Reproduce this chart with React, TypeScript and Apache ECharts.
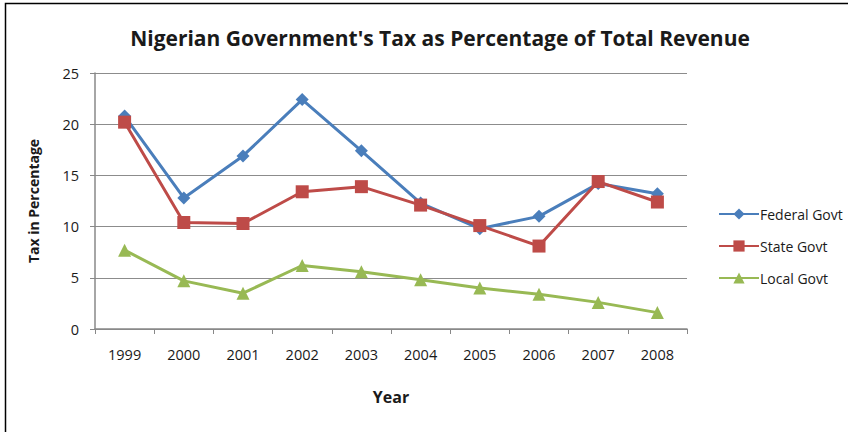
import React, { useEffect, useRef } from "react";
import * as echarts from "echarts";

const years = ["1999", "2000", "2001", "2002", "2003", "2004", "2005", "2006", "2007", "2008"];
const federalGovt = [20.8, 12.8, 16.9, 22.4, 17.4, 12.3, 9.8, 11.0, 14.2, 13.2];
const stateGovt = [20.2, 10.4, 10.3, 13.4, 13.9, 12.1, 10.1, 8.1, 14.4, 12.4];
const localGovt = [7.7, 4.7, 3.5, 6.2, 5.6, 4.8, 4.0, 3.4, 2.6, 1.6];

const FONT = "'Open Sans', sans-serif";

export default function App() {
  const ref = useRef<HTMLDivElement>(null);
  useEffect(() => {
    const chart = echarts.init(ref.current!, null, { renderer: "svg" });
    const mk = (name: string, data: number[], color: string, symbol: string, size: number) => ({
      name,
      type: "line",
      data,
      symbol,
      symbolSize: size,
      lineStyle: { color, width: 3 },
      itemStyle: { color },
      z: 3,
    });
    chart.setOption({
      animation: false,
      backgroundColor: "#fff",
      textStyle: { fontFamily: FONT },
      title: {
        text: "Nigerian Government's Tax as Percentage of Total Revenue",
        left: 435,
        top: 22,
        textAlign: "center",
        textStyle: { fontFamily: FONT, fontSize: 21, fontWeight: "bold", color: "#1a1a1a" },
      },
      graphic: [
        {
          type: "rect",
          shape: { x: 5.5, y: 3.5, width: 900, height: 500 },
          style: { fill: "none", stroke: "#000", lineWidth: 1.5 },
          silent: true,
        },
      ],
      legend: {
        orient: "vertical",
        left: 713,
        top: 202,
        itemWidth: 40,
        itemHeight: 14,
        itemGap: 18,
        textStyle: { fontFamily: FONT, fontSize: 14, color: "#1a1a1a", padding: [0, 0, 0, -4] },
        data: ["Federal Govt", "State Govt", "Local Govt"],
      },
      grid: { left: 95, top: 73, width: 592, height: 256, containLabel: false },
      xAxis: {
        type: "category",
        data: years,
        boundaryGap: true,
        name: "Year",
        nameLocation: "middle",
        nameGap: 60,
        nameTextStyle: { fontFamily: FONT, fontSize: 16, fontWeight: "bold", color: "#1a1a1a" },
        axisLine: { lineStyle: { color: "#888", width: 1.5 } },
        axisTick: { show: true, alignWithLabel: false, length: 5, lineStyle: { color: "#888" } },
        axisLabel: { fontFamily: FONT, fontSize: 14.5, color: "#1a1a1a", margin: 18 },
      },
      yAxis: {
        type: "value",
        min: 0,
        max: 25,
        interval: 5,
        name: "Tax in Percentage",
        nameLocation: "middle",
        nameGap: 55,
        nameTextStyle: { fontFamily: FONT, fontSize: 14, fontWeight: "bold", color: "#1a1a1a" },
        axisLine: { show: true, lineStyle: { color: "#888", width: 1.5 } },
        axisTick: { show: true, length: 5, lineStyle: { color: "#888" } },
        axisLabel: { fontFamily: FONT, fontSize: 14.5, color: "#1a1a1a", margin: 16 },
        splitLine: { lineStyle: { color: "#8c8c8c", width: 1.2 } },
      },
      series: [
        mk("Federal Govt", federalGovt, "#4a7ebb", "diamond", 13),
        mk("State Govt", stateGovt, "#be4b48", "rect", 13),
        mk("Local Govt", localGovt, "#98b954", "triangle", 13),
      ],
    });
    return () => chart.dispose();
  }, []);
  return <div ref={ref} style={{ position: "fixed", left: 0, top: 0, width: 848, height: 432 }} />;
}
